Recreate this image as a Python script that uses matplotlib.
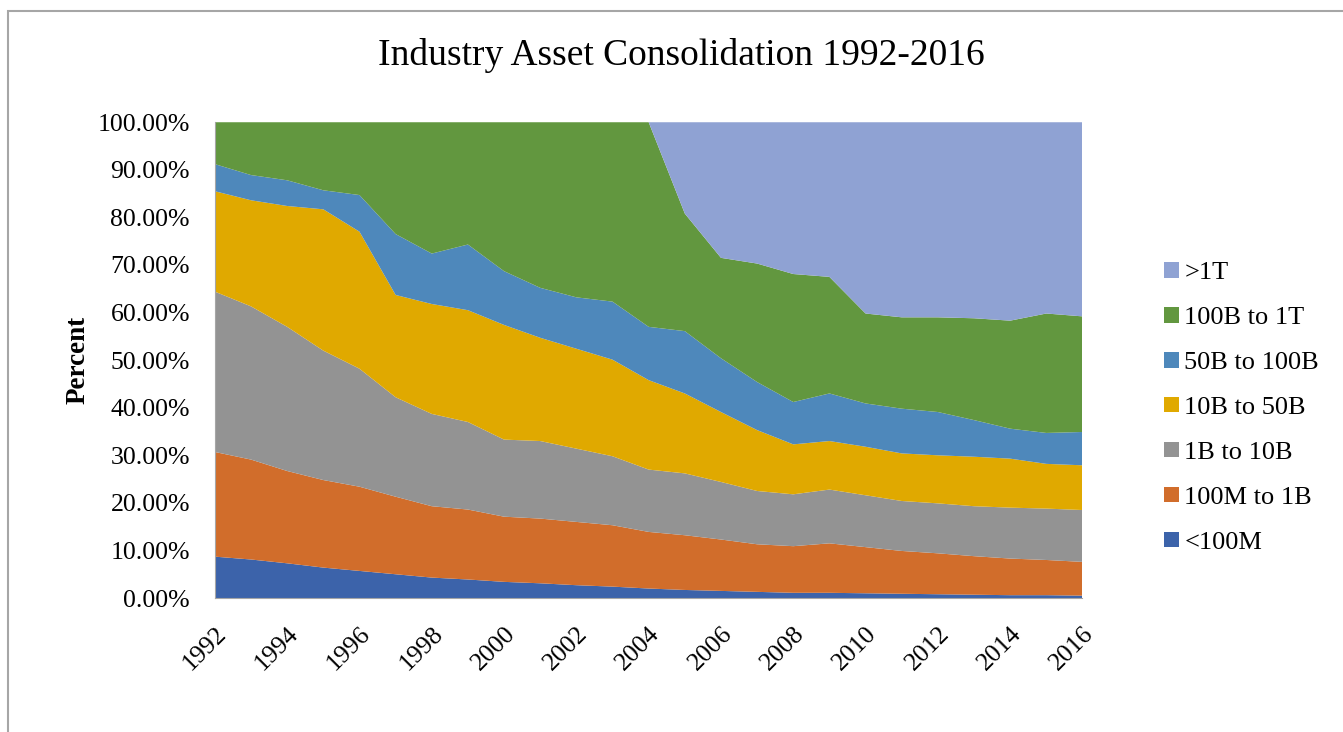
import matplotlib.pyplot as plt
from matplotlib.patches import Rectangle

plt.rcParams['font.family'] = ['Liberation Serif', 'DejaVu Serif']

years = list(range(1992, 2017))

# share of industry assets (%) by bank size
under_100m = [8.7, 8.1, 7.3, 6.4, 5.7, 5.0, 4.3, 3.9, 3.4, 3.1, 2.7, 2.4, 2.0,
              1.7, 1.5, 1.3, 1.1, 1.1, 1.0, 0.9, 0.8, 0.7, 0.6, 0.6, 0.5]
m100_to_1b = [22.0, 21.0, 19.4, 18.4, 17.7, 16.3, 15.0, 14.7, 13.7, 13.6, 13.3, 12.9, 11.9,
              11.5, 10.8, 10.0, 9.8, 10.4, 9.7, 9.0, 8.6, 8.1, 7.7, 7.4, 7.1]
b1_to_10b = [33.7, 32.2, 30.3, 27.2, 24.8, 20.9, 19.4, 18.4, 16.2, 16.3, 15.4, 14.5, 13.1,
             13.0, 12.1, 11.2, 10.9, 11.3, 10.9, 10.5, 10.5, 10.5, 10.7, 10.8, 10.9]
b10_to_50b = [21.1, 22.3, 25.4, 29.7, 28.8, 21.5, 23.1, 23.5, 24.1, 21.7, 21.0, 20.3, 18.8,
              16.8, 14.7, 12.8, 10.5, 10.2, 10.2, 10.0, 10.1, 10.4, 10.3, 9.4, 9.4]
b50_to_100b = [5.7, 5.3, 5.4, 4.0, 7.7, 12.8, 10.6, 13.8, 11.3, 10.5, 10.8, 12.2, 11.2,
               13.1, 11.3, 10.1, 8.9, 10.0, 9.1, 9.4, 9.1, 7.7, 6.3, 6.5, 7.0]
b100_to_1t = [8.8, 11.1, 12.2, 14.3, 15.3, 23.5, 27.6, 25.7, 31.3, 34.8, 36.8, 37.7, 43.0,
              24.7, 21.1, 24.9, 26.9, 24.5, 18.9, 19.2, 19.9, 21.4, 22.7, 25.1, 24.3]
over_1t = [0, 0, 0, 0, 0, 0, 0, 0, 0, 0, 0, 0, 0,
           19.2, 28.5, 29.7, 31.9, 32.5, 40.2, 41.0, 41.0, 41.2, 41.7, 40.2, 40.8]

labels = ['<100M', '100M to 1B', '1B to 10B', '10B to 50B', '50B to 100B', '100B to 1T', '>1T']
colors = ['#3c63aa', '#d16d2b', '#939393', '#e0a900', '#4e88bb', '#62973f', '#8fa2d3']

fig = plt.figure(figsize=(13.43, 7.32), dpi=100)
ax = fig.add_axes([0.160, 0.183, 0.646, 0.650])

series = [under_100m, m100_to_1b, b1_to_10b, b10_to_50b, b50_to_100b, b100_to_1t, over_1t]
ax.stackplot(years, [[v / 100 for v in s] for s in series],
             colors=colors, labels=labels, linewidth=0)

ax.set_xlim(1992, 2016)
ax.set_ylim(0, 1)
ax.set_yticks([i / 10 for i in range(11)])
ax.set_yticklabels(['%.2f%%' % (i * 10) for i in range(11)], fontsize=18.5)
ax.set_xticks(years[::2])
ax.set_xticklabels([str(y) for y in years[::2]], fontsize=18.5, rotation=45,
                   ha='right', va='top', rotation_mode='anchor')
ax.tick_params(axis='y', length=0, pad=18)
ax.tick_params(axis='x', length=0, pad=18)
for side in ['bottom', 'left']:
    ax.spines[side].set_color('#a6a6a6')
ax.spines['top'].set_visible(False)
ax.spines['right'].set_visible(False)

ax.set_ylabel('Percent', fontsize=19.5, fontweight='bold', labelpad=5)
fig.text(0.507, 0.9235, 'Industry Asset Consolidation 1992-2016', fontsize=27,
         ha='center', va='center')

handles, labs = ax.get_legend_handles_labels()
ax.legend(handles[::-1], labs[::-1], loc='center left', bbox_to_anchor=(1.067, 0.40),
          frameon=False, fontsize=19, handlelength=0.55, handleheight=0.55,
          handletextpad=0.2, labelspacing=0.86)

# outer chart frame
fig.patches.append(Rectangle((8 / 1343, -0.1), 1.2, (732 - 11) / 732 + 0.1,
                             transform=fig.transFigure, fill=False,
                             edgecolor='#a6a6a6', linewidth=1.5))

fig.savefig('out.png', dpi=100)
